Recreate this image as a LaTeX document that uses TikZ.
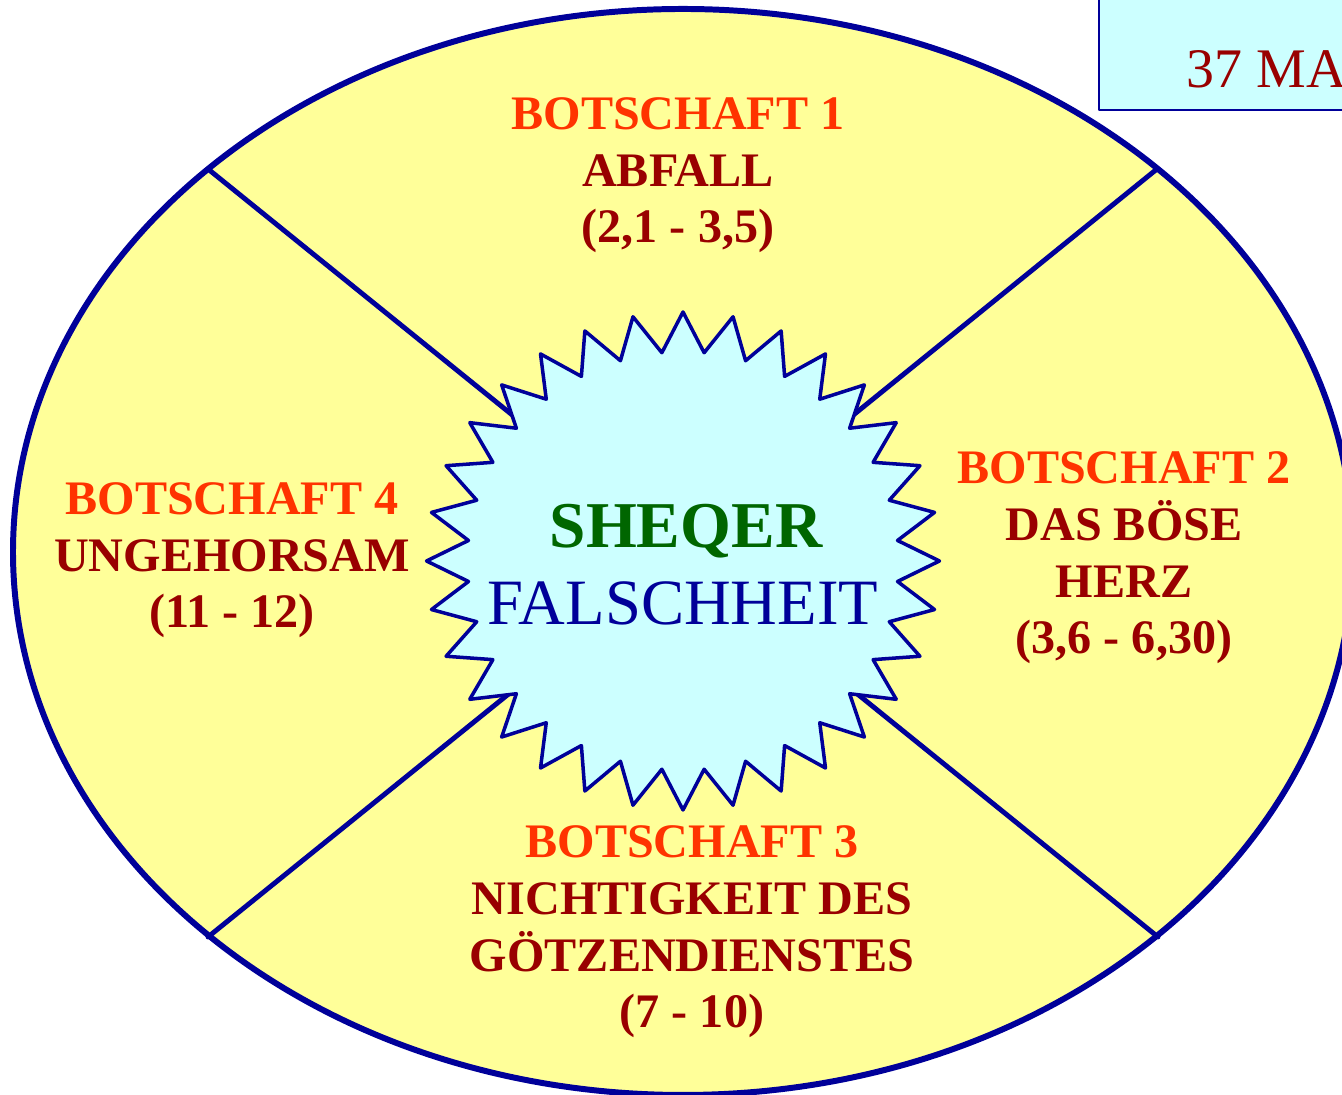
\documentclass[tikz,border=0pt]{standalone}
\usepackage{fontspec}
\setmainfont{Liberation Serif}
\usepackage{tikz}
\usetikzlibrary{shapes.geometric}
\definecolor{gelb}{HTML}{FFFF99}
\definecolor{hellblau}{HTML}{CCFFFF}
\definecolor{marine}{HTML}{000099}
\definecolor{orangerot}{HTML}{FF3300}
\definecolor{dunkelrot}{HTML}{990000}
\definecolor{gruen}{HTML}{006600}
\newcommand{\titel}[1]{\textcolor{orangerot}{#1}}

\begin{document}
\begin{tikzpicture}[line cap=round,line join=round,x=1.0cm,y=1.0cm,
        botschaft/.style={align=center,anchor=base,inner sep=0pt,text=dunkelrot,
            font=\fontsize{13.7}{16.2}\selectfont\bfseries},
        mitte/.style={anchor=base,inner sep=0pt}]
        \useasboundingbox (0,0) rectangle (13.42,10.95);
        \clip (0,0) rectangle (13.42,10.95);
        \draw [line width=0.7pt,draw=marine,fill=hellblau] (10.99,9.85) rectangle (13.8,11.3);
        \node [anchor=base west,inner sep=0pt,text=dunkelrot,font=\fontsize{15.9}{18}\selectfont] (mal) at (11.86,10.07) {37 MA};
        \draw [line width=1.7pt,draw=marine,fill=gelb] (6.83,5.43) ellipse (6.70 and 5.43);
        \coordinate (m) at (6.83,5.42);
        \coordinate (ol) at (2.08,9.26);
        \coordinate (or) at (11.57,9.26);
        \coordinate (ul) at (2.08,1.58);
        \coordinate (ur) at (11.58,1.58);
        \foreach \p in {ol,or,ul,ur}
            \draw [line width=1.4pt,marine] (\p) -- (m);
        \node [star,star points=32,star point ratio=1.19,minimum size=4.98cm,inner sep=0pt,
            xscale=1.03,line width=1pt,draw=marine,fill=hellblau] (stern) at (6.83,5.34) {};
        \node [mitte,text=gruen,font=\fontsize{18.6}{20}\selectfont\bfseries] (sheqer) at (6.86,5.47) {SHEQER};
        \node [mitte,text=marine,font=\fontsize{18.4}{20}\selectfont] (falsch) at (6.83,4.70) {FALSCHHEIT};
        \node [botschaft] (b1) at (6.78,8.52) {\titel{BOTSCHAFT 1}\\ABFALL\\(2,1 - 3,5)};
        \node [botschaft] (b2) at (11.24,4.41) {\titel{BOTSCHAFT 2}\\DAS BÖSE\\HERZ\\(3,6 - 6,30)};
        \node [botschaft] (b3) at (6.92,0.67) {\titel{BOTSCHAFT 3}\\NICHTIGKEIT DES\\GÖTZENDIENSTES\\(7 - 10)};
        \node [botschaft] (b4) at (2.32,4.67) {\titel{BOTSCHAFT 4}\\UNGEHORSAM\\(11 - 12)};
\end{tikzpicture}
\end{document}
